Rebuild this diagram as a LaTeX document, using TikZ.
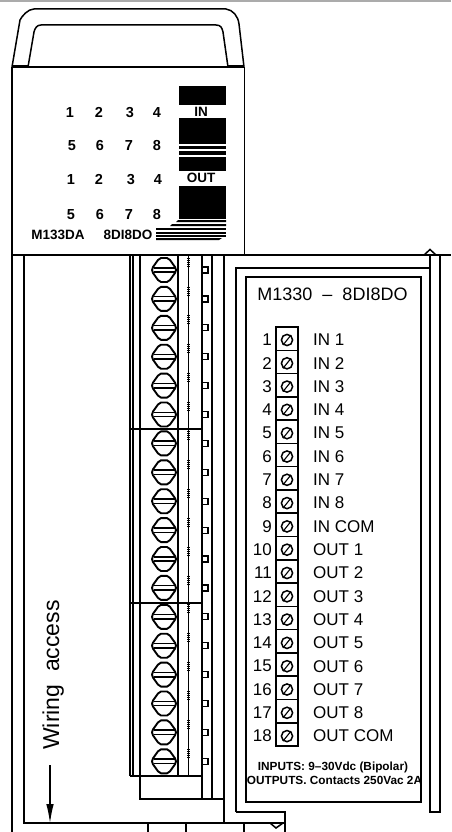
\documentclass[tikz,border=0pt]{standalone}
\usepackage{fontspec}
\setmainfont{Liberation Sans}
\usetikzlibrary{arrows.meta}
\tikzset{
  ln/.style={line width=1.5pt,black},
  thk/.style={line width=1.8pt,black},
  lab/.style={font=\fontsize{17}{17}\selectfont,inner sep=0pt},
  pd/.style={font=\fontsize{14.5}{15}\selectfont\bfseries,inner sep=0pt,text height=10.5pt,text depth=0pt},
  pl/.style={font=\fontsize{13.5}{14}\selectfont\bfseries,inner sep=0pt},
  blk/.style={fill=black,draw=none},
  tinyt/.style={font=\fontsize{11.8}{12}\selectfont\bfseries,inner sep=0pt}
}
\begin{document}
\begin{tikzpicture}[x=1pt,y=-1pt]
\useasboundingbox (0,0) rectangle (451,832);
\fill[white] (0,0) rectangle (451,832);
\fill[black!33] (0,0) rectangle (451,2.5);
% handle
\draw[ln] (12,67) -- (20,20) .. controls (22,16) and (28,9) .. (34,9) -- (226,9) .. controls (233,10) and (238,16) .. (239,24) -- (244,67);
\draw[ln] (28,67) -- (34,32) .. controls (35,28) and (37,25) .. (41,25) -- (216,25) .. controls (221,25) and (222,28) .. (223,32) -- (228,67);
\draw[thk] (12,65.5) -- (28,65.5);\draw[thk] (228,65.5) -- (244,65.5);
% upper panel
\draw[ln] (12,67) -- (244,67);
\draw[ln] (12,67) -- (12,832);
\draw[thk] (244.5,67) -- (244.5,255);
\draw[ln] (12,255) -- (451,255);
\draw[ln] (24,255) -- (24,823) -- (224,823) -- (224,255);
% black legend
\fill[blk] (179,86) rectangle (226,105);
\fill[blk] (179,118.5) rectangle (226,143.5);
\fill[blk] (179,146) rectangle (226,149);
\fill[blk] (179,151) rectangle (226,155);
\fill[blk] (179,157) rectangle (226,171);
\fill[blk] (179,186) rectangle (226,219);
\node[pl] (inl) at (201,112) {IN};
\node[pl] (outl) at (201,178) {OUT};
\fill[blk] (178,220) -- (226,220) -- (226,222) -- (176,222) -- cycle;
\fill[blk] (172,224) -- (226,224) -- (226,226) -- (170,226) -- cycle;
\fill[blk] (156,228) rectangle (226,230);
\fill[blk] (156,232) rectangle (226,233.5);
\fill[blk] (156,235) rectangle (226,236.5);
\fill[blk] (156,238) -- (222,238) -- (219,240) -- (156,240) -- cycle;
\foreach \t/\x/\y in {1/70/112,2/99/112,3/130/112,4/157/112,5/72/145,6/100/145,7/129/145,8/157/145,1/71/179,2/99/179,3/131/179,4/158/179,5/71/214,6/100/214,7/129/214,8/157/214}
  \node[pd] at (\x,\y) {\t};
\node[pl] (code1) at (58,235) {M133DA};
\node[pl] (code2) at (128,235) {8DI8DO};
% terminal block
\foreach \x in {130,133,140,178,202,212} \draw[ln] (\x,255) -- (\x,776);
\draw[line width=1pt] (188,255) -- (188,776);
\draw[ln] (130,429) -- (202,429);
\draw[ln] (130,603) -- (202,603);
\draw[ln] (130,776) -- (202,776);
\draw[ln] (140,776) -- (140,799) -- (224,799);
\draw[ln] (202,776) -- (202,799);
\draw[ln] (212,776) -- (212,799);
\draw[ln] (148,823) -- (148,832);
\draw[ln] (186,823) -- (186,832);
\foreach \i in {0,...,17}{
  \pgfmathsetmacro{\yy}{270+28.9*\i}
  \begin{scope}[shift={(164,\yy)}]
    \draw[line width=1.9pt,fill=white] (-12,0) -- (-11,-3) -- (-6,-10) -- (-3,-12) -- (3,-12) -- (6,-10) -- (11,-3) -- (12,0) -- (11,3) -- (6,10) -- (3,12) -- (-3,12) -- (-6,10) -- (-11,3) -- cycle;
    \draw[ln] (-10.5,-2.2) -- (10.5,-2.2);
    \draw[ln] (-10.5,2.2) -- (10.5,2.2);
    \draw[line width=1.2pt] (202-164,-3) -- (208-164,-3) -- (208-164,3) -- (202-164,3);
    \foreach \d in {-12,-10,-8,-6,-4} \draw[line width=.8pt] (188-164-1,\d) -- (188-164+2,\d);
  \end{scope}
}
% right panel
\draw[ln] (236,812) -- (236,268) -- (430,268);
\draw[ln] (236,812) -- (285,812) -- (285,832);
\draw[ln] (224,823) -- (285,823);
\draw[ln] (244,823) -- (244,832);
\draw[ln] (270,823) -- (276,828) -- (283,823);
\draw[thk] (246,802) rectangle (421,277);
\draw[ln] (430,255) -- (430,812) -- (440,812) -- (440,255);
\draw[ln] (424,255) -- (430,249.5) -- (436,255);
\node[lab,font=\fontsize{18}{18}\selectfont] (title) at (332.5,294) {M1330\ \ --\ \ 8DI8DO};
% strip
\draw[ln] (276,327) rectangle (298,746);
\foreach \n/\t [count=\c from 0] in {1/IN 1,2/IN 2,3/IN 3,4/IN 4,5/IN 5,6/IN 6,7/IN 7,8/IN 8,9/IN COM,10/OUT 1,11/OUT 2,12/OUT 3,13/OUT 4,14/OUT 5,15/OUT 6,16/OUT 7,17/OUT 8,18/OUT COM}{
  \pgfmathsetmacro{\yy}{340+23.3*\c}
  \pgfmathsetmacro{\yb}{327+23.28*(\c+1)}
  \ifnum\c<17 \draw[ln] (276,\yb) -- (298,\yb);\fi
  \node[lab,anchor=east] at (272,\yy) {\n};
  \node[lab,anchor=west] at (313,\yy) {\t};
  \draw[ln] (287,\yy) circle (5.6);
  \draw[line width=1.1pt] (283,\yy+5) -- (291,\yy-5);
}
\node[tinyt] (inp) at (333,767) {INPUTS: 9--30Vdc (Bipolar)};
\node[tinyt] (outp) at (334.5,780) {OUTPUTS. Contacts 250Vac 2A};
% wiring
\node[rotate=90,font=\fontsize{23}{23}\selectfont,inner sep=0pt,anchor=base] (wa) at (59,675) {Wiring\ \ access};
\coordinate (a1) at (50,765);
\coordinate (a2) at (50,823);
\draw[line width=1.1pt,-{Latex[length=19pt,width=7.5pt]}] (a1) -- (a2);
\end{tikzpicture}
\end{document}
